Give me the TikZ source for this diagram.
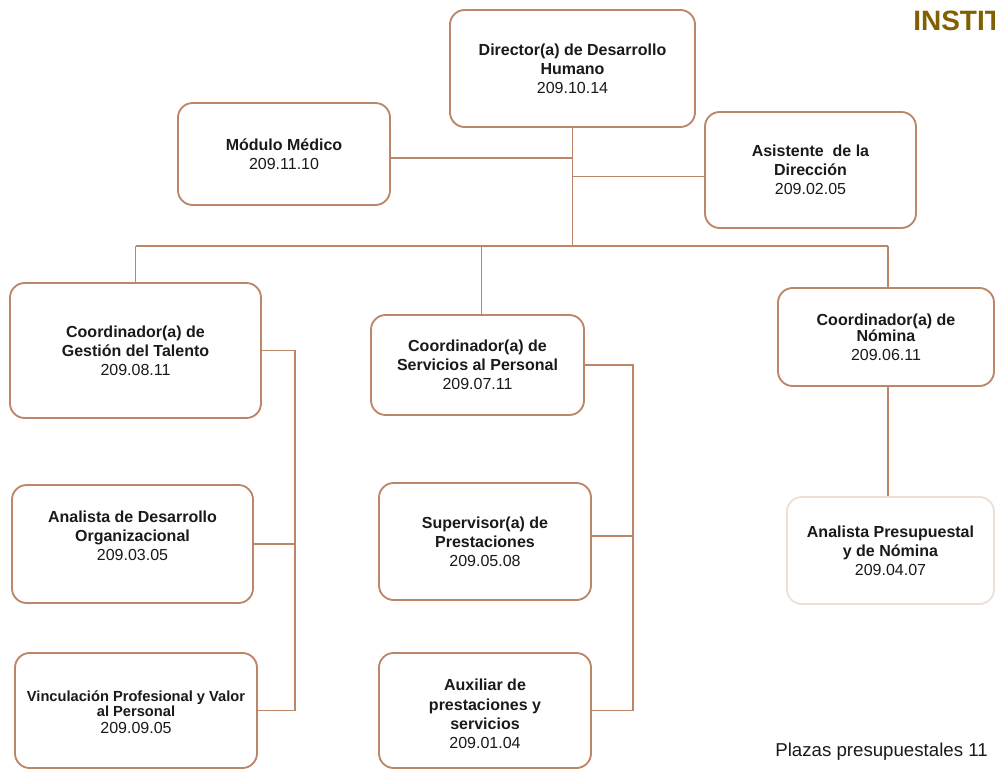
\documentclass[tikz,border=0pt]{standalone}
\usepackage{fontspec}
\setmainfont{Liberation Sans}
\definecolor{linebrown}{RGB}{188,134,104}
\definecolor{palebrown}{RGB}{238,224,214}
\definecolor{titlegold}{RGB}{128,96,0}
\definecolor{inkgray}{RGB}{26,26,26}
\begin{document}
\begin{tikzpicture}[x=0.75pt,y=-0.75pt,
  box/.style={draw=linebrown, line width=1.4pt, rounded corners=11pt, inner sep=0pt, fill=white},
  pale/.style={box, draw=palebrown},
  span/.style 2 args={minimum width=#1*0.75pt, minimum height=#2*0.75pt},
  txt/.style={align=center, text=inkgray, inner sep=0pt, font=\fontsize{12}{14.4}\selectfont},
  small/.style={txt, font=\fontsize{11}{11.6}\selectfont},
  conn/.style={draw=linebrown, line width=1.2pt}]
\useasboundingbox (0,0) rectangle (995,770);
\clip (0,0) rectangle (995,770);

% position boxes
\node[box, span={245}{117}] (dir) at (572.5,68.5) {};
\node[box, span={212}{102}] (mod) at (284,154) {};
\node[box, span={211}{116}] (asis) at (810.5,170) {};
\node[box, span={251}{135}] (cg) at (135.5,350.5) {};
\node[box, span={213}{100}] (cs) at (477.5,365) {};
\node[box, span={216}{98}] (cn) at (886,337) {};
\node[box, span={241}{118}] (ad) at (132.5,544) {};
\node[box, span={242}{115}] (vp) at (136,710.5) {};
\node[box, span={212}{117}] (sup) at (485,541.5) {};
\node[box, span={212}{115}] (aux) at (485,710.5) {};
\node[pale, span={207}{107}] (apn) at (890.5,550.5) {};

% titles and position numbers
\node[txt] (dirt) at (dir) {\textbf{Director(a) de Desarrollo}\\\textbf{Humano}\\209.10.14};
\node[txt] (modt) at (mod) {\textbf{Módulo Médico}\\209.11.10};
\node[txt] (asist) at (asis) {\textbf{Asistente\ \ de la}\\\textbf{Dirección}\\209.02.05};
\node[txt] (cgt) at (cg) {\textbf{Coordinador(a) de}\\\textbf{Gestión del Talento}\\209.08.11};
\node[txt] (cst) at (cs) {\textbf{Coordinador(a) de}\\\textbf{Servicios al Personal}\\209.07.11};
\node[txt] (cnt) at (cn) {\textbf{Coordinador(a) de}\\[-2.5pt]\textbf{Nómina}\\209.06.11};
\node[txt] (adt) at (132.5,536) {\textbf{Analista de Desarrollo}\\\textbf{Organizacional}\\209.03.05};
\node[small] (vpt) at (136,712) {\textbf{Vinculación Profesional y Valor}\\\textbf{al Personal}\\[1pt]\fontsize{12}{14}\selectfont 209.09.05};
\node[txt] (supt) at (sup) {\textbf{Supervisor(a) de}\\\textbf{Prestaciones}\\209.05.08};
\node[txt] (auxt) at (485,714) {\textbf{Auxiliar de}\\\textbf{prestaciones y}\\\textbf{servicios}\\209.01.04};
\node[txt] (apnt) at (apn) {\textbf{Analista Presupuestal}\\\textbf{y de Nómina}\\209.04.07};

% connectors
\coordinate (hub) at (573,246);
\coordinate (gx) at (295,0);
\coordinate (sx) at (633,0);
\draw[conn] (dir.south) -- (dir.south |- hub);
\draw[conn] ([yshift=-3pt]mod.east) -- ([yshift=-3pt]mod.east -| dir.south);
\draw[conn] ([yshift=-5pt]asis.west) -- ([yshift=-5pt]asis.west -| dir.south);
\draw[conn] (cg.north |- hub) -- ([xshift=1.5pt]cn.north |- hub);
\draw[conn] (cg.north) -- (cg.north |- hub);
\draw[conn] ([xshift=3pt]cs.north) -- ([xshift=3pt]cs.north |- hub);
\draw[conn] ([xshift=1.5pt]cn.north) -- ([xshift=1.5pt]cn.north |- hub);
\draw[conn] (cg.east) -- (cg.east -| gx) -- (vp.east -| gx) -- (vp.east);
\draw[conn] (ad.east) -- (ad.east -| gx);
\draw[conn] (cs.east) -- (cs.east -| sx) -- (aux.east -| sx) -- (aux.east);
\draw[conn] ([yshift=4pt]sup.east) -- ([yshift=4pt]sup.east -| sx);
\draw[conn] ([xshift=1.5pt]cn.south) -- ([xshift=1.5pt]cn.south |- apn.north);

% heading and footer
\node[anchor=base west, inner sep=0pt, text=titlegold, font=\fontsize{21}{21}\selectfont\bfseries] (inst) at (913,31) {INSTIT};
\node[anchor=base east, inner sep=0pt, text=inkgray, font=\fontsize{14}{14}\selectfont] (plz) at (988,756) {Plazas presupuestales 11};
\end{tikzpicture}
\end{document}
